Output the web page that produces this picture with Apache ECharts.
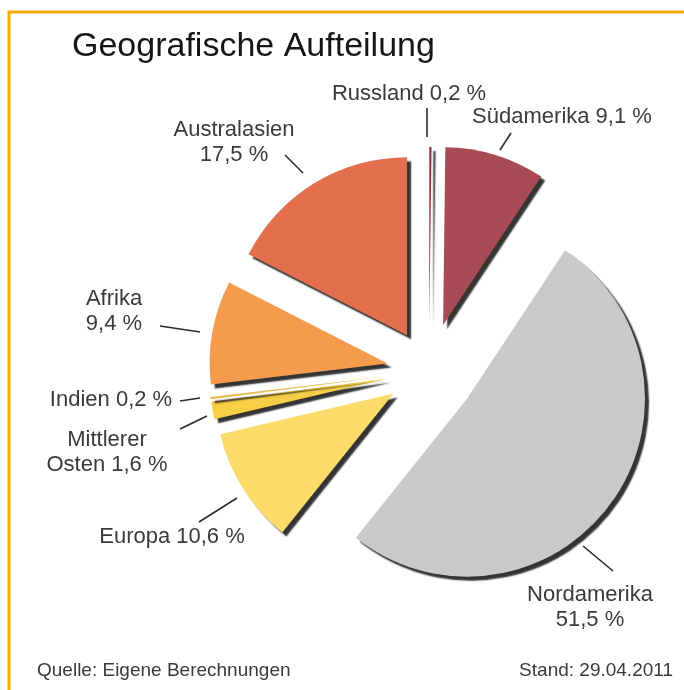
<!DOCTYPE html>
<html>
<head>
    <meta charset="UTF-8">
    <title>Geografische Aufteilung</title>
    <script src="https://cdn.jsdelivr.net/npm/echarts@6/dist/echarts.min.js"></script>
    <style>
        html, body { margin: 0; padding: 0; background: #fff; }
        #chart { width: 684px; height: 690px; }
    </style>
</head>
<body>
<div id="chart"></div>
<script type="text/javascript">
    // Daten (Anteile in %)
    var regions = ['Russland', 'Südamerika', 'Nordamerika', 'Europa', 'Mittlerer Osten', 'Indien', 'Afrika', 'Australasien'];
    var shares = [0.2, 9.1, 51.5, 10.6, 1.6, 0.2, 9.4, 17.5];
    var labelNames = ['Russland', 'Südamerika', 'Nordamerika', 'Europa', 'Mittlerer\nOsten', 'Indien', 'Afrika', 'Australasien'];
    var wrapLabel = [false, false, true, false, false, false, true, true];

    // Aussehen
    var colors = ['#8c2f3d', '#a84b55', '#c9c9c9', '#fcdb6a', '#f6cf47', '#e6bd4c', '#f59b4e', '#e36f4f'];
    var explode = [46, 48, 47, 42, 42, 42, 42, 42];
    var labelPos = [[409, 94], [562, 117], [590, 607], [172, 537], [107, 452], [111, 400], [114, 311], [234, 142]];
    // kurze Hinweislinien zwischen Beschriftung und Stück
    var leaderLines = [
        [[427, 108], [427, 137]],
        [[511, 133], [500, 150]],
        [[583, 546], [613, 571]],
        [[237, 498], [199, 522]],
        [[207, 416], [180, 429]],
        [[200, 398], [180, 401]],
        [[200, 332], [160, 326]],
        [[303, 173], [285, 155]]
    ];
    var pieCenter = [429, 371];
    var pieRadius = 178;
    var font = 'Liberation Sans, Arial, sans-serif';

    function pct(v) {
        return v.toFixed(1).replace('.', ',') + ' %';
    }

    var total = shares.reduce(function (a, b) { return a + b; }, 0);

    // jedes Stück als eigene Serie, damit es einzeln herausgezogen werden kann
    var series = [];
    var cum = 0;
    for (let i = 0; i < regions.length; i++) {
        var mid = (cum + shares[i] / 2) / total * Math.PI * 2;
        cum += shares[i];
        var cx = pieCenter[0] + Math.sin(mid) * explode[i];
        var cy = pieCenter[1] - Math.cos(mid) * explode[i];
        series.push({
            type: 'pie',
            center: [cx, cy],
            radius: [0, pieRadius],
            startAngle: 90,
            clockwise: true,
            avoidLabelOverlap: false,
            silent: true,
            animation: false,
            label: {
                show: false,
                position: 'outside',
                fontFamily: font,
                fontSize: 22,
                lineHeight: 25,
                color: '#3a3a3a',
                align: 'center',
                formatter: function (p) {
                    return labelNames[p.dataIndex] + (wrapLabel[p.dataIndex] ? '\n' : ' ') + pct(p.value);
                }
            },
            labelLine: {
                show: false,
                length: 10,
                length2: 0,
                lineStyle: { color: '#2a2a2a', width: 1.6 }
            },
            labelLayout: function (params) {
                if (params.dataIndex !== i) {
                    return {};
                }
                return {
                    x: labelPos[i][0],
                    y: labelPos[i][1],
                    align: 'center',
                    verticalAlign: 'middle',
                    labelLinePoints: leaderLines[i]
                };
            },
            data: regions.map(function (name, j) {
                var own = j === i;
                return {
                    name: name,
                    value: shares[j],
                    itemStyle: own ? {
                        color: colors[j],
                        shadowColor: 'rgba(30,30,30,0.9)',
                        shadowBlur: 1.5,
                        shadowOffsetX: 4,
                        shadowOffsetY: 4
                    } : { color: 'rgba(0,0,0,0)' },
                    label: { show: own },
                    labelLine: { show: own }
                };
            })
        });
    }

    var option = {
        backgroundColor: '#fff',
        title: [
            {
                text: 'Geografische Aufteilung',
                left: 72,
                top: 30,
                padding: 0,
                textStyle: { fontFamily: font, fontSize: 34, fontWeight: 'normal', color: '#151515' }
            },
            {
                text: 'Quelle: Eigene Berechnungen',
                left: 37,
                top: 661,
                padding: 0,
                textStyle: { fontFamily: font, fontSize: 19, fontWeight: 'normal', color: '#3a3a3a' }
            },
            {
                text: 'Stand: 29.04.2011',
                right: 11,
                top: 661,
                padding: 0,
                textStyle: { fontFamily: font, fontSize: 19, fontWeight: 'normal', color: '#3a3a3a' }
            }
        ],
        graphic: [
            {
                type: 'polyline',
                silent: true,
                shape: { points: [[9, 690], [9, 12], [684, 12]] },
                style: { stroke: '#f5ab00', lineWidth: 3, fill: null }
            }
        ],
        series: series
    };

    var myChart = echarts.init(document.getElementById('chart'));
    myChart.setOption(option);
</script>
</body>
</html>
